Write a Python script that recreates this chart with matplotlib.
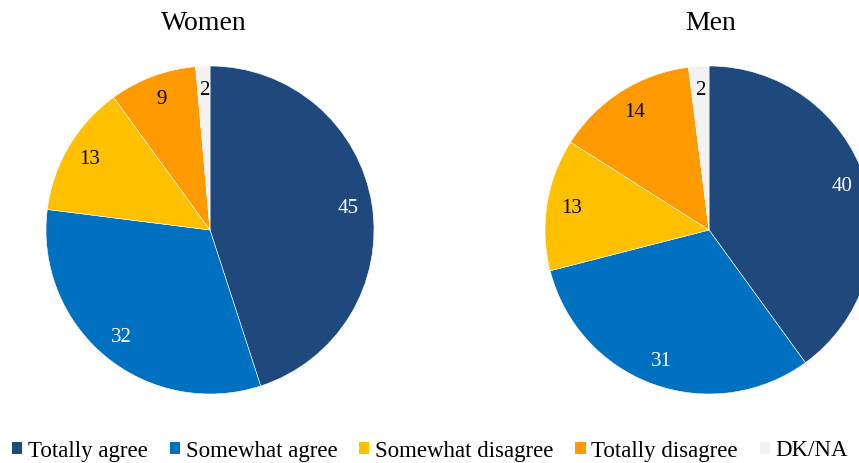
import matplotlib
matplotlib.use("Agg")
import matplotlib.pyplot as plt
from matplotlib.patches import Patch

categories = ["Totally agree", "Somewhat agree", "Somewhat disagree", "Totally disagree", "DK/NA"]
women = [45, 32, 13, 8.6, 1.4]
women_labels = ["45", "32", "13", "9", "2"]
men = [40, 31, 13, 14, 2]
men_labels = ["40", "31", "13", "14", "2"]
titles = ["Women", "Men"]
colors = ["#1F497D", "#0070C0", "#FFC000", "#FF9900", "#F2F2F2"]
label_colors = ["white", "white", "black", "black", "black"]

plt.rcParams['font.family'] = ['Liberation Serif', 'DejaVu Serif']

W, H = 859, 463
fig = plt.figure(figsize=(W / 100, H / 100), dpi=100)

R = 164
centers = [(210, 230), (709, 230)]

for (cx, cy), vals, labs, title in zip(centers, [women, men], [women_labels, men_labels], titles):
    ax = fig.add_axes([(cx - R) / W, (H - cy - R) / H, 2 * R / W, 2 * R / H])
    wedges, texts = ax.pie(vals, colors=colors, startangle=90, counterclock=False,
                           labels=labs, labeldistance=0.85,
                           wedgeprops=dict(edgecolor="white", linewidth=0.4),
                           textprops=dict(fontsize=15))
    for t, c in zip(texts, label_colors):
        t.set_color(c)
        t.set_ha("center")
        t.set_va("center")
    ax.set_xlim(-1, 1)
    ax.set_ylim(-1, 1)
    ax.set_aspect("equal")
    fig.text(cx / W + (-6 if title == "Women" else 2) / W, 1 - 24 / H, title,
             ha="center", va="center", fontsize=20)

handles = [Patch(facecolor=c, edgecolor="none") for c in colors]
fig.legend(handles, categories, loc="center left", bbox_to_anchor=(12 / W, 1 - 451 / H),
           ncol=5, frameon=False, fontsize=16.5, handlelength=0.45, handleheight=0.45,
           handletextpad=0.25, columnspacing=0.95, borderaxespad=0, borderpad=0)

fig.savefig("out.png", dpi=100)
